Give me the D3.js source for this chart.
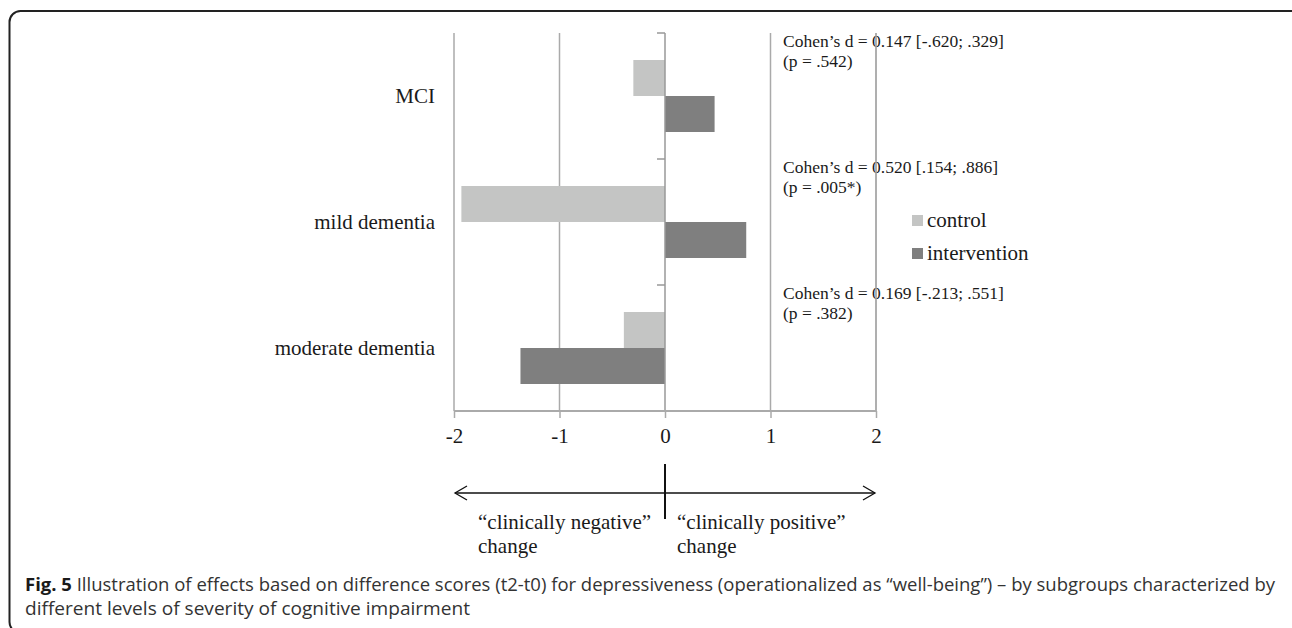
<!DOCTYPE html>
<html><head><meta charset="utf-8">
<script src="https://cdn.jsdelivr.net/npm/d3@7"></script>
<style>html,body{margin:0;padding:0;background:#fff;}svg{display:block;}</style>
</head><body>
<svg id="chart" width="1292" height="628"></svg>
<script>
const categories = ["MCI", "mild dementia", "moderate dementia"];
const seriesNames = ["control", "intervention"];
const controlValues = [-0.30, -1.93, -0.39];
const interventionValues = [0.47, 0.77, -1.37];
const xTickValues = [-2, -1, 0, 1, 2];
const effectLine1 = ["Cohen’s d = 0.147 [-.620; .329]", "Cohen’s d = 0.520 [.154; .886]", "Cohen’s d = 0.169 [-.213; .551]"];
const effectLine2 = ["(p = .542)", "(p = .005*)", "(p = .382)"];
const directionLabels = [["“clinically negative”", "change"], ["“clinically positive”", "change"]];
const captionBold = "Fig. 5";
const captionLine1 = " Illustration of effects based on difference scores (t2-t0) for depressiveness (operationalized as “well-being”) – by subgroups characterized by";
const captionLine2 = "different levels of severity of cognitive impairment";

const colors = {control: "#c4c5c4", intervention: "#7f7f7f"};
const serif = "'Liberation Serif','Times New Roman',serif";
const svg = d3.select("#chart");

// frame
svg.append("rect").attr("x", 9.5).attr("y", 11).attr("width", 1320).attr("height", 622)
  .attr("rx", 11).attr("fill", "none").attr("stroke", "#222").attr("stroke-width", 2);

const x = d3.scaleLinear().domain([-2, 2]).range([454, 876]);
const y = d3.scaleBand().domain(categories).range([33, 411]).paddingInner(0).paddingOuter(0);
const sub = d3.scaleBand().domain(seriesNames).range([0, y.bandwidth()]).paddingInner(0).paddingOuter(0.75);

const rows = categories.map((c, i) => ({cat: c, control: controlValues[i], intervention: interventionValues[i], l1: effectLine1[i], l2: effectLine2[i]}));

// gridlines
svg.append("g").selectAll("line").data(xTickValues.filter(v => v !== 0)).join("line")
  .attr("x1", d => x(d)).attr("x2", d => x(d)).attr("y1", 33).attr("y2", 411)
  .attr("stroke", "#aaaaaa").attr("stroke-width", 1.5);

// effect size text
const eg = svg.append("g").attr("font-family", serif).attr("font-size", 17.5).attr("fill", "#1a1a1a");
rows.forEach(r => {
  const y0 = y(r.cat);
  eg.append("text").attr("x", 783).attr("y", y0 + 14).text(r.l1);
  eg.append("text").attr("x", 783).attr("y", y0 + 34).text(r.l2);
});
// gridline 2 drawn over text as in reference
svg.append("line").attr("x1", x(2)).attr("x2", x(2)).attr("y1", 33).attr("y2", 411)
  .attr("stroke", "#aaaaaa").attr("stroke-width", 1.5);

// bars
const bg = svg.append("g");
rows.forEach(r => {
  seriesNames.forEach(s => {
    const v = r[s];
    bg.append("rect")
      .attr("x", x(Math.min(0, v))).attr("width", Math.abs(x(v) - x(0)))
      .attr("y", y(r.cat) + sub(s)).attr("height", sub.bandwidth())
      .attr("fill", colors[s]);
  });
});

// vertical category axis at zero
const ag = svg.append("g");
ag.append("line").attr("x1", x(0)).attr("x2", x(0)).attr("y1", 33).attr("y2", 411)
  .attr("stroke", "#999").attr("stroke-width", 1.5);
const bounds = [...categories.map(c => y(c)), y.range()[1]];
ag.selectAll("line.tk").data(bounds).join("line").attr("class", "tk")
  .attr("x1", x(0) - 8).attr("x2", x(0)).attr("y1", d => d).attr("y2", d => d)
  .attr("stroke", "#999").attr("stroke-width", 1.5);

// category labels
svg.append("g").attr("font-family", serif).attr("font-size", 21).attr("fill", "#1a1a1a")
  .selectAll("text").data(categories).join("text")
  .attr("x", 435).attr("y", d => y(d) + y.bandwidth() / 2).attr("dy", "0.33em")
  .attr("text-anchor", "end").text(d => d);

// x axis
const xAxis = d3.axisBottom(x).tickValues(xTickValues).tickSize(7).tickPadding(10).tickFormat(d3.format("d"));
const xg = svg.append("g").attr("transform", "translate(0,411)").call(xAxis);
xg.select(".domain").attr("stroke", "#aaaaaa").attr("stroke-width", 2).attr("d", `M${x(-2)},0H${x(2)}`);
xg.selectAll(".tick line").attr("stroke", "#aaaaaa").attr("stroke-width", 1.5);
xg.selectAll(".tick text").attr("font-family", serif).attr("font-size", 21).attr("fill", "#1a1a1a")
  .attr("y", 17).attr("dy", "0.71em").text(d => d < 0 ? "-" + Math.abs(d) : d);

// legend
const lg = svg.append("g").attr("font-family", serif).attr("font-size", 21).attr("fill", "#1a1a1a");
seriesNames.forEach((s, i) => {
  const ly = 220 + i * 33;
  lg.append("rect").attr("x", 912).attr("y", ly - 5).attr("width", 11).attr("height", 11).attr("fill", colors[s]);
  lg.append("text").attr("x", 927).attr("y", ly).attr("dy", "0.33em").text(s);
});

// direction arrow
const arrowY = 493;
const dg = svg.append("g").attr("stroke", "#111").attr("fill", "none");
dg.append("line").attr("x1", x(-2) + 1).attr("x2", x(2) - 1).attr("y1", arrowY).attr("y2", arrowY).attr("stroke-width", 1.3);
dg.append("path").attr("d", `M${x(-2) + 13},${arrowY - 7}L${x(-2) + 1},${arrowY}L${x(-2) + 13},${arrowY + 7}`).attr("stroke-width", 1.3);
dg.append("path").attr("d", `M${x(2) - 13},${arrowY - 7}L${x(2) - 1},${arrowY}L${x(2) - 13},${arrowY + 7}`).attr("stroke-width", 1.3);
dg.append("line").attr("x1", x(0)).attr("x2", x(0)).attr("y1", 464).attr("y2", 519).attr("stroke-width", 2);

const tg = svg.append("g").attr("font-family", serif).attr("font-size", 21).attr("fill", "#1a1a1a");
[478, 677].forEach((tx, i) => {
  tg.append("text").attr("x", tx).attr("y", 529).text(directionLabels[i][0]);
  tg.append("text").attr("x", tx).attr("y", 553).text(directionLabels[i][1]);
});

// caption
const cg = svg.append("g").attr("font-family", "'Open Sans','Noto Sans',sans-serif").attr("font-size", 18.5).attr("fill", "#333");
const c1 = cg.append("text").attr("x", 25).attr("y", 591).attr("textLength", 1250).attr("lengthAdjust", "spacingAndGlyphs");
c1.append("tspan").attr("font-weight", "bold").attr("fill", "#1a1a1a").text(captionBold);
c1.append("tspan").attr("font-weight", 400).text(captionLine1);
cg.append("text").attr("x", 25).attr("y", 615).attr("font-weight", 400).attr("textLength", 445).attr("lengthAdjust", "spacingAndGlyphs").text(captionLine2);
</script>
</body></html>
